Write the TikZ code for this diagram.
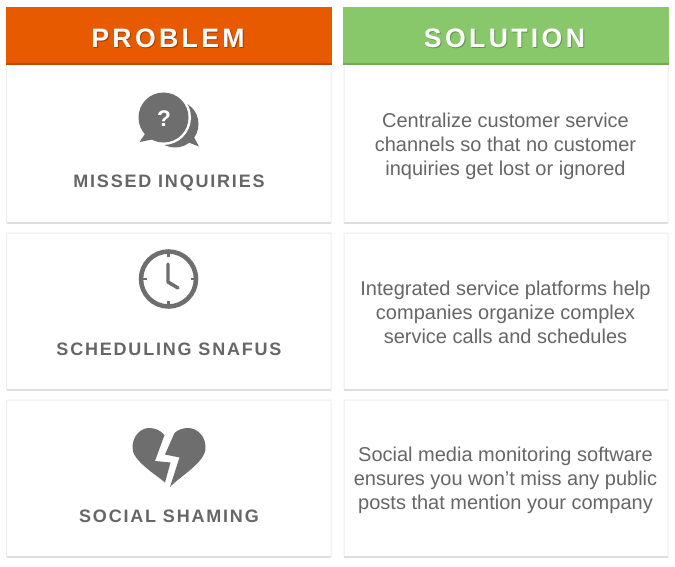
\documentclass[tikz,border=0pt]{standalone}
\usepackage{fontspec}
\setmainfont{Liberation Sans}
\newfontfamily\headfont[LetterSpace=12.5]{Liberation Sans}
\newfontfamily\labelfont[LetterSpace=10]{Liberation Sans}
\definecolor{orangehead}{HTML}{E85A00}
\definecolor{greenhead}{HTML}{88C76A}
\definecolor{icongray}{HTML}{6E6E6E}
\definecolor{textgray}{HTML}{666666}
\tikzset{
  card/.style={draw=black!7,line width=0.75pt,fill=white,rounded corners=0.5pt},
  cardedge/.style={draw=black!13,line width=1.5pt},
  headtext/.style={font=\headfont\bfseries\fontsize{20}{24}\selectfont,text=white},
  headshade/.style={font=\headfont\bfseries\fontsize{20}{24}\selectfont,text=black!30!orangehead},
  problemlabel/.style={font=\labelfont\bfseries\fontsize{13.5}{16}\selectfont,text=textgray},
  solutiontext/.style={font=\fontsize{15}{18}\selectfont,text=textgray,align=center}
}
\begin{document}
\begin{tikzpicture}[x=0.75pt,y=-0.75pt]
\useasboundingbox (0,0) rectangle (675,567);
\fill[white](0,0)rectangle(675,567);
% cards
\foreach \ytop/\ybot in {65/223,233/390,400/557}{
  \draw[card](6.5,\ytop)rectangle(331,\ybot);
  \draw[cardedge](6.5,\ybot)--(331,\ybot);
  \draw[card](344,\ytop)rectangle(668,\ybot);
  \draw[cardedge](344,\ybot)--(668,\ybot);
}
% headers
\fill[orangehead](6,7)rectangle(332,64);
\fill[black!18!orangehead](6,63.5)rectangle(332,65);
\fill[greenhead](343,7)rectangle(669,64);
\fill[black!15!greenhead](343,63.5)rectangle(669,65);
\node[headshade] (problemshade) at (169,39){PROBLEM};
\node[headtext] (problem) at (168,38){PROBLEM};
\node[headshade,text=black!25!greenhead] (solutionshade) at (505.5,39){SOLUTION};
\node[headtext] (solution) at (504.5,38){SOLUTION};
% chat bubbles
\fill[icongray](175,124)circle[radius=23.5];
\fill[icongray](190,130)--(199,146.5)--(186,141.5)--cycle;
\fill[white](163.5,117.5)circle[radius=27.5];
\fill[icongray](163.5,117.5)circle[radius=25];
\fill[icongray](145,134)--(139.5,142)--(152,139.5)--(160,138)--cycle;
\node[font=\bfseries\fontsize{17}{20}\selectfont,text=white,inner sep=0pt] (question) at (164,119){?};
% clock
\draw[icongray,line width=3.4pt](168.5,279)circle[radius=27.5];
\draw[icongray,line width=1.7pt](168.5,253)--(168.5,257);
\draw[icongray,line width=1.7pt](168.5,301)--(168.5,305);
\draw[icongray,line width=1.7pt](142.5,279)--(146.5,279);
\draw[icongray,line width=1.7pt](190.5,279)--(194.5,279);
\draw[icongray,line width=2.6pt,line join=round,line cap=round](168,264)--(168,282)--(178,288);
% broken heart
\fill[icongray](164.5,435)--(155,461)--(170.5,462.5)--(165,482.5)
  .. controls (155,474) and (131.5,460) .. (132.5,447)
  .. controls (132.5,436) and (141,428) .. (149,428)
  .. controls (155,428) and (160,430) .. cycle;
\fill[icongray](174.5,433)--(165,454.5)--(179.5,457.5)--(170,487)
  .. controls (180,476) and (206.5,462) .. (205.5,447)
  .. controls (205.5,436) and (197,428) .. (188,428)
  .. controls (182,428) and (178,430) .. cycle;
% labels
\node[problemlabel] (missed) at (169,182.5){MISSED INQUIRIES};
\node[problemlabel] (scheduling) at (169,349.5){SCHEDULING SNAFUS};
\node[problemlabel] (shaming) at (169,516.5){SOCIAL SHAMING};
\node[solutiontext] (central) at (505.5,146){Centralize customer service\\channels so that no customer\\inquiries get lost or ignored};
\node[solutiontext] (platforms) at (505.5,312.5){Integrated service platforms help\\companies organize complex\\service calls and schedules};
\node[solutiontext] (monitoring) at (505.5,480){Social media monitoring software\\ensures you won’t miss any public\\posts that mention your company};
\end{tikzpicture}
\end{document}
